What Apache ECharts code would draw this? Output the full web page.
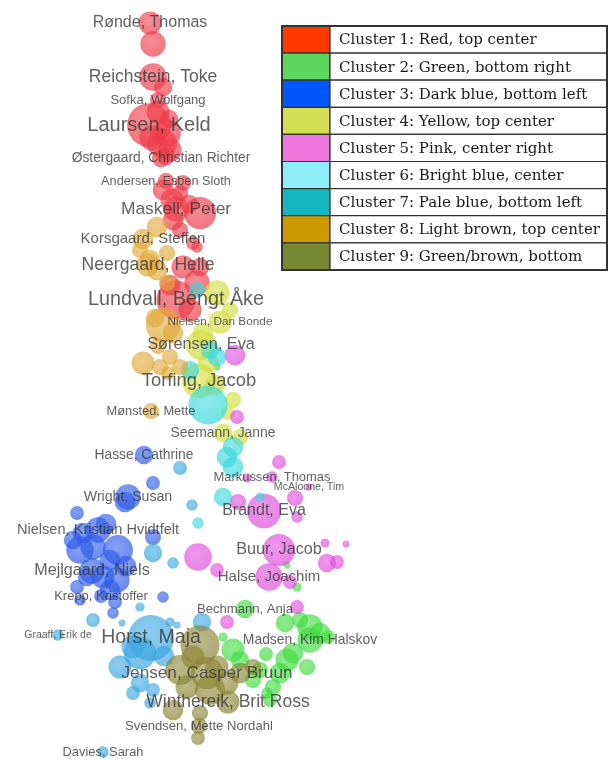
<!DOCTYPE html>
<html>
<head>
<meta charset="utf-8">
<script src="https://cdn.jsdelivr.net/npm/echarts@6/dist/echarts.min.js"></script>
<style>
  html, body { margin: 0; padding: 0; background: #ffffff; }
  #chart { width: 609px; height: 760px; }
</style>
</head>
<body>
<div id="chart"></div>
<script>
// Co-authorship cluster map: each node is [x, y, weight, label?] in map units.
const clusterNames = [
  'Cluster 1: Red, top center',
  'Cluster 2: Green, bottom right',
  'Cluster 3: Dark blue, bottom left',
  'Cluster 4: Yellow, top center',
  'Cluster 5: Pink, center right',
  'Cluster 6: Bright blue, center',
  'Cluster 7: Pale blue, bottom left',
  'Cluster 8: Light brown, top center',
  'Cluster 9: Green/brown, bottom'
];
const swatchColors = ['#ff3a00', '#5cd65c', '#0057ff', '#d4de55', '#ee77dd', '#8eeef8', '#14b8c0', '#cc9900', '#778833'];
const bubbleColors = ['#ee3a48', '#3edc3e', '#2d5ae8', '#d3de3a', '#e04ddc', '#3ad8dc', '#3aa6e0', '#e0a838', '#8c8535'];

const redNodes = [
  [15.0, 2.3, 20, 'Rønde, Thomas'], [15.3, 4.4, 22],
  [15.3, 7.7, 24, 'Reichstein, Toke'], [16.3, 8.7, 16],
  [15.8, 10.0, 14, 'Sofka, Wolfgang'], [15.8, 11.2, 20],
  [14.9, 12.5, 38, 'Laursen, Keld'], [16.7, 13.3, 24], [16.2, 14.3, 26], [17.0, 15.0, 20],
  [16.1, 15.8, 16, 'Østergaard, Christian Richter'], [16.6, 15.6, 16],
  [16.6, 18.1, 14, 'Andersen, Esben Sloth'], [18.3, 18.3, 14],
  [16.3, 19.0, 18], [17.2, 20.0, 20], [18.0, 19.3, 14],
  [17.6, 20.9, 22, 'Maskell, Peter'], [20.0, 21.3, 28], [17.3, 22.0, 18], [18.0, 23.0, 14],
  [19.3, 24.3, 12], [19.7, 24.7, 10], [18.3, 26.7, 20], [20.0, 26.7, 16], [19.7, 28.3, 22],
  [17.6, 30.0, 34, 'Lundvall, Bengt Åke'], [19.0, 31.0, 20], [17.0, 28.5, 18],
  [15.2, 13.8, 22], [16.9, 11.9, 16], [18.9, 20.4, 16]
];
const greenNodes = [
  [28.7, 56.5, 6], [29.7, 58.7, 8], [21.7, 36.7, 6],
  [24.5, 60.9, 16, 'Bechmann, Anja'], [28.5, 62.3, 16], [31.0, 62.7, 22], [32.0, 63.3, 18],
  [31.0, 64.0, 22, 'Madsen, Kim Halskov'], [28.7, 66.0, 20], [23.3, 65.0, 20], [24.0, 66.0, 16],
  [26.0, 67.0, 14], [28.0, 67.3, 18], [30.7, 66.7, 14], [27.3, 68.7, 14], [26.7, 69.3, 10],
  [22.3, 63.7, 8], [32.8, 63.7, 12], [25.3, 68.0, 14], [27.0, 70.0, 12], [29.3, 65.3, 18],
  [30.0, 62.0, 14], [26.6, 65.4, 12]
];
const darkBlueNodes = [
  [14.4, 45.5, 16, 'Hasse, Cathrine'], [15.3, 48.3, 12],
  [12.8, 49.7, 22, 'Wright, Susan'], [12.5, 50.2, 18], [7.7, 51.3, 12],
  [9.8, 53.0, 22, 'Nielsen, Kristian Hvidtfelt'], [8.3, 53.3, 18], [7.3, 54.0, 16],
  [9.3, 54.7, 22], [8.0, 55.0, 24], [11.8, 55.0, 26], [11.0, 56.0, 18],
  [9.2, 57.1, 22, 'Mejlgaard, Niels'], [10.3, 57.7, 20], [11.7, 58.0, 22], [8.7, 57.7, 16],
  [7.7, 58.7, 12], [11.0, 59.0, 18],
  [10.1, 59.6, 12, 'Krepp, Kristoffer'], [11.3, 61.3, 10], [11.5, 60.2, 12],
  [15.3, 53.7, 14], [16.3, 59.7, 10], [8.0, 60.0, 10], [10.6, 52.4, 18], [12.6, 56.6, 18]
];
const yellowNodes = [
  [21.7, 29.3, 22], [23.0, 31.0, 14],
  [22.0, 32.2, 20, 'Nielsen, Dan Bonde'], [20.3, 33.3, 18],
  [20.1, 34.5, 26, 'Sørensen, Eva'],
  [19.9, 38.1, 30, 'Torfing, Jacob'], [21.5, 38.5, 18], [23.3, 40.0, 14], [22.8, 41.3, 12],
  [22.3, 43.3, 16, 'Seemann, Janne'], [24.0, 43.7, 14], [20.8, 36.2, 18]
];
const pinkNodes = [
  [23.5, 35.5, 18], [23.7, 41.7, 12], [27.9, 46.2, 12], [24.7, 47.8, 8],
  [27.2, 47.7, 10, 'Markussen, Thomas'],
  [30.9, 48.7, 6, 'McAloone, Tim'],
  [29.5, 49.8, 14], [29.7, 51.7, 10], [23.8, 50.2, 14],
  [26.4, 51.1, 30, 'Brandt, Eva'],
  [27.9, 55.0, 28, 'Buur, Jacob'], [32.5, 54.3, 8], [32.7, 56.3, 16], [33.7, 56.2, 12], [34.6, 54.4, 6],
  [19.8, 55.7, 24], [21.7, 57.0, 12],
  [26.9, 57.7, 24, 'Halse, Joachim'], [29.0, 58.2, 12], [29.7, 60.7, 12], [22.7, 62.2, 12]
];
const brightBlueNodes = [
  [19.7, 29.0, 14], [21.0, 35.0, 16], [21.7, 35.7, 16], [19.0, 37.0, 16],
  [20.8, 40.5, 34], [23.3, 44.7, 18], [22.7, 45.7, 18], [23.3, 46.7, 18],
  [22.3, 49.7, 16], [26.0, 49.7, 8], [19.8, 52.3, 10]
];
const paleBlueNodes = [
  [18.0, 46.8, 12], [19.2, 50.5, 10], [15.3, 55.3, 16], [17.3, 56.3, 10], [14.0, 60.7, 8],
  [9.3, 62.0, 12], [12.2, 62.3, 6],
  [5.8, 63.5, 10, 'Graaff, Erik de'],
  [15.1, 63.8, 40, 'Horst, Maja'], [14.0, 65.3, 28], [13.3, 64.7, 20], [12.0, 66.7, 20],
  [17.0, 62.2, 8], [17.7, 62.5, 6], [14.0, 68.3, 16], [13.3, 69.3, 12], [15.3, 69.0, 12],
  [15.0, 70.3, 10], [20.2, 62.2, 16], [16.4, 65.6, 18],
  [10.3, 75.2, 10, 'Davies, Sarah']
];
const lightBrownNodes = [
  [15.7, 22.7, 18],
  [14.3, 23.9, 18, 'Korsgaard, Steffen'], [14.0, 25.0, 14], [16.7, 25.3, 14], [15.0, 26.0, 18],
  [14.8, 26.5, 20, 'Neergaard, Helle'], [15.7, 27.0, 18], [16.7, 28.3, 14],
  [16.3, 32.5, 30], [17.3, 33.3, 18], [15.5, 31.8, 16], [14.3, 36.3, 20], [16.0, 36.7, 14],
  [17.0, 35.7, 14], [18.0, 36.7, 14], [16.8, 37.3, 12], [15.8, 34.6, 14],
  [15.1, 41.1, 14, 'Mønsted, Mette']
];
const greenBrownNodes = [
  [20.0, 64.5, 34], [18.0, 67.0, 26],
  [20.7, 67.3, 28, 'Jensen, Casper Bruun'], [21.7, 66.7, 20], [24.0, 67.3, 18], [25.3, 66.7, 14],
  [18.7, 68.7, 20], [21.0, 69.0, 26], [22.7, 68.3, 20],
  [22.8, 70.2, 20, 'Winthereik, Brit Ross'], [17.3, 71.0, 18], [20.0, 71.3, 14],
  [19.9, 72.6, 14, 'Svendsen, Mette Nordahl'], [19.8, 73.8, 12], [19.3, 65.7, 20]
];
const clusterNodes = [redNodes, greenNodes, darkBlueNodes, yellowNodes, pinkNodes,
  brightBlueNodes, paleBlueNodes, lightBrownNodes, greenBrownNodes];

// Label font size per author (larger for more prominent authors)
const labelSizes = {
  'Rønde, Thomas': 16, 'Reichstein, Toke': 17.5, 'Sofka, Wolfgang': 13, 'Laursen, Keld': 20,
  'Østergaard, Christian Richter': 13.8, 'Andersen, Esben Sloth': 12.7, 'Maskell, Peter': 17.4,
  'Korsgaard, Steffen': 15, 'Neergaard, Helle': 17.6, 'Lundvall, Bengt Åke': 19.8,
  'Nielsen, Dan Bonde': 11.8, 'Sørensen, Eva': 16.3, 'Torfing, Jacob': 18.4, 'Mønsted, Mette': 12.8,
  'Seemann, Janne': 13.9, 'Hasse, Cathrine': 13.8, 'Markussen, Thomas': 12.9, 'McAloone, Tim': 10.6,
  'Wright, Susan': 14.1, 'Brandt, Eva': 16, 'Nielsen, Kristian Hvidtfelt': 14.6, 'Buur, Jacob': 16.2,
  'Mejlgaard, Niels': 16.1, 'Halse, Joachim': 15, 'Krepp, Kristoffer': 13, 'Bechmann, Anja': 13.1,
  'Graaff, Erik de': 10.5, 'Horst, Maja': 19.5, 'Madsen, Kim Halskov': 13.9,
  'Jensen, Casper Bruun': 17.2, 'Winthereik, Brit Ross': 17.5, 'Svendsen, Mette Nordahl': 13.1,
  'Davies, Sarah': 12.9
};

const chart = echarts.init(document.getElementById('chart'), null, { renderer: 'canvas' });

function hexToRgba(hex, a) {
  const n = parseInt(hex.slice(1), 16);
  return 'rgba(' + ((n >> 16) & 255) + ',' + ((n >> 8) & 255) + ',' + (n & 255) + ',' + a + ')';
}

const series = clusterNodes.map(function (nodes, ci) {
  const base = bubbleColors[ci];
  return {
    type: 'scatter',
    name: clusterNames[ci],
    silent: true,
    symbol: 'circle',
    symbolSize: function (v) { return v[2] * 1.15; },
    itemStyle: {
      color: {
        type: 'radial', x: 0.45, y: 0.4, r: 0.6,
        colorStops: [
          { offset: 0, color: hexToRgba(base, 0.72) },
          { offset: 1, color: hexToRgba(base, 0.88) }
        ]
      }
    },
    data: nodes.map(function (n) {
      const item = { value: [n[0], n[1], n[2]] };
      if (n[3]) {
        item.name = n[3];
        item.label = {
          show: true,
          position: 'inside',
          formatter: n[3],
          fontSize: labelSizes[n[3]],
          fontFamily: 'Liberation Sans, Arial, sans-serif',
          color: '#383838'
        };
      }
      return item;
    })
  };
});

// Cluster key drawn as a bordered table
const keyLeft = 282, keyTop = 26, keyWidth = 325, rowH = 27.1, swatchW = 48;
const keyElements = [];
clusterNames.forEach(function (name, i) {
  const y = keyTop + i * rowH;
  keyElements.push({
    type: 'rect', shape: { x: keyLeft, y: y, width: swatchW, height: rowH },
    style: { fill: swatchColors[i], stroke: '#333', lineWidth: 1.2 }
  });
  keyElements.push({
    type: 'rect', shape: { x: keyLeft + swatchW, y: y, width: keyWidth - swatchW, height: rowH },
    style: { fill: '#fff', stroke: '#333', lineWidth: 1.2 }
  });
  keyElements.push({
    type: 'text', x: keyLeft + swatchW + 9, y: y + rowH / 2 + 1,
    style: {
      text: name, fill: '#1a1a1a', fontSize: 15,
      fontFamily: 'DejaVu Serif, serif',
      verticalAlign: 'middle', align: 'left'
    }
  });
});
keyElements.push({
  type: 'rect', shape: { x: keyLeft, y: keyTop, width: keyWidth, height: rowH * clusterNames.length },
  style: { fill: 'none', stroke: '#333', lineWidth: 2 }
});

chart.setOption({
  backgroundColor: '#ffffff',
  animation: false,
  grid: { left: 0, right: 0, top: 0, bottom: 0 },
  xAxis: { type: 'value', min: 0, max: 60.9, show: false },
  yAxis: { type: 'value', min: 0, max: 76, inverse: true, show: false },
  series: series,
  graphic: [{ type: 'group', z: 100, children: keyElements }]
});
</script>
</body>
</html>
